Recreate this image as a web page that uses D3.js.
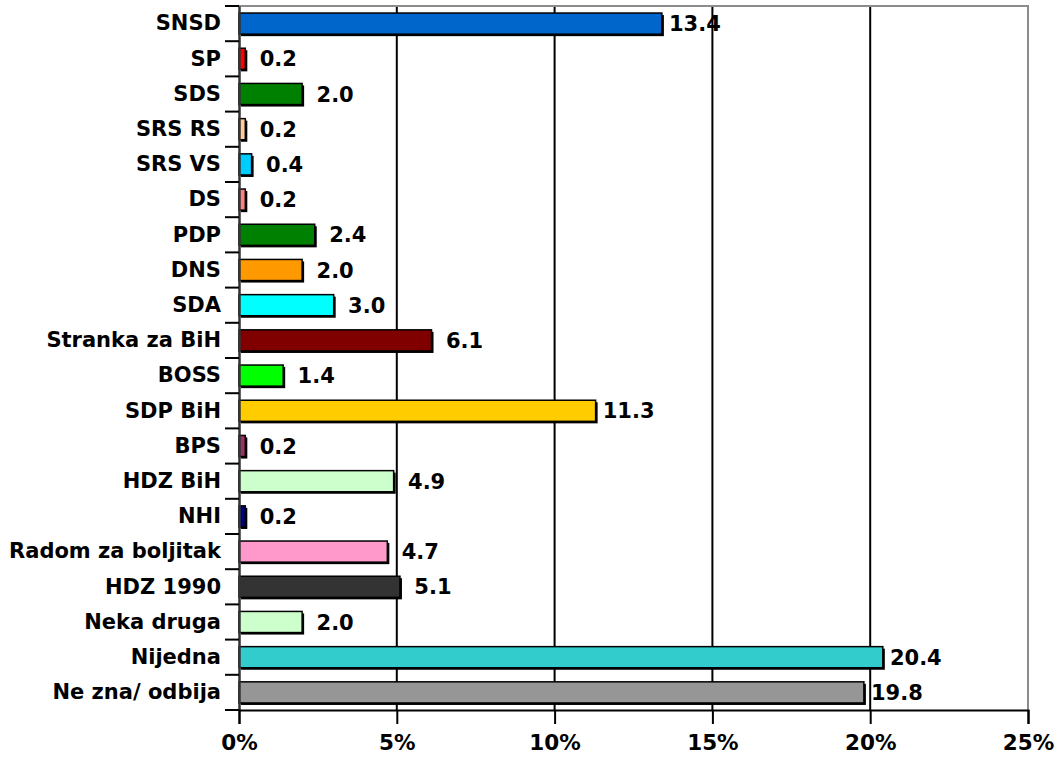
<!DOCTYPE html>
<html lang="en">
<head>
  <meta charset="UTF-8">
  <title>Stranke</title>
  <script src="https://d3js.org/d3.v7.min.js"></script>
  <style>
    body { margin: 0; background: #fff; }
    svg text { font-family: "DejaVu Sans", Verdana, sans-serif; font-weight: bold; }
  </style>
</head>
<body>
<svg id="chart" width="1062" height="759"></svg>
<script>
  // data
  const parties = ["SNSD", "SP", "SDS", "SRS RS", "SRS VS", "DS", "PDP", "DNS", "SDA",
    "Stranka za BiH", "BOSS", "SDP BiH", "BPS", "HDZ BiH", "NHI", "Radom za boljitak",
    "HDZ 1990", "Neka druga", "Nijedna", "Ne zna/ odbija"];
  const shares = [13.4, 0.2, 2.0, 0.2, 0.4, 0.2, 2.4, 2.0, 3.0, 6.1, 1.4, 11.3, 0.2, 4.9,
    0.2, 4.7, 5.1, 2.0, 20.4, 19.8];
  const barColors = ["#0066CC", "#FF0000", "#008000", "#FFCC99", "#00CCFF", "#FF8080",
    "#008000", "#FF9900", "#00FFFF", "#800000", "#00FF00", "#FFCC00", "#993366", "#CCFFCC",
    "#000080", "#FF99CC", "#333333", "#CCFFCC", "#33CCCC", "#969696"];
  const xTicks = [0, 5, 10, 15, 20, 25];

  const svg = d3.select("#chart");
  const plotL = 239, plotR = 1028, plotT = 6, plotB = 710;
  const FS = 21;

  const x = d3.scaleLinear().domain([0, 25]).range([plotL, plotR]);
  const y = d3.scaleBand().domain(parties).range([plotT, plotB]).paddingInner(0.4).paddingOuter(0.2);

  // gridlines
  svg.append("g").selectAll("line")
    .data(xTicks.filter(t => t > 0 && t < 25))
    .join("line")
    .attr("x1", d => x(d)).attr("x2", d => x(d))
    .attr("y1", plotT).attr("y2", plotB)
    .attr("stroke", "#000").attr("stroke-width", 2);

  // plot border top / right
  svg.append("path")
    .attr("d", `M${plotL},${plotT}H${plotR}V${plotB}`)
    .attr("fill", "none").attr("stroke", "#8c8c8c").attr("stroke-width", 2);

  // bars with shadow
  const bars = svg.append("g");
  bars.selectAll("rect.shadow")
    .data(parties)
    .join("rect")
    .attr("class", "shadow")
    .attr("x", x(0) + 2)
    .attr("y", d => y(d) + 2)
    .attr("width", (d, i) => x(shares[i]) - x(0))
    .attr("height", y.bandwidth())
    .attr("fill", "#000");
  bars.selectAll("rect.bar")
    .data(parties)
    .join("rect")
    .attr("class", "bar")
    .attr("x", x(0))
    .attr("y", d => y(d))
    .attr("width", (d, i) => x(shares[i]) - x(0))
    .attr("height", y.bandwidth())
    .attr("fill", (d, i) => barColors[i])
    .attr("stroke", "#000").attr("stroke-width", 1.5);

  // value labels
  svg.append("g").selectAll("text")
    .data(parties)
    .join("text")
    .attr("x", (d, i) => x(shares[i]) + 33)
    .attr("y", d => y(d) + y.bandwidth() / 2)
    .attr("dy", "0.36em")
    .attr("text-anchor", "middle")
    .attr("font-size", FS)
    .text((d, i) => shares[i].toFixed(1));

  // left axis
  const yAxis = svg.append("g")
    .attr("transform", `translate(${plotL},0)`)
    .call(d3.axisLeft(y).tickSize(0).tickPadding(18));
  yAxis.select(".domain").attr("stroke", "#333").attr("stroke-width", 2.5);
  yAxis.selectAll("text").attr("font-size", FS).attr("fill", "#000");
  const bounds = d3.range(parties.length + 1).map(i => plotT + i * (plotB - plotT) / parties.length);
  yAxis.selectAll("line.sep")
    .data(bounds)
    .join("line")
    .attr("class", "sep")
    .attr("x1", -14).attr("x2", 0)
    .attr("y1", d => d).attr("y2", d => d)
    .attr("stroke", "#000").attr("stroke-width", 2);

  // bottom axis
  const xAxis = svg.append("g")
    .attr("transform", `translate(0,${plotB})`)
    .call(d3.axisBottom(x).tickValues(xTicks).tickSize(14).tickPadding(11).tickFormat(d => d + "%"));
  xAxis.select(".domain").attr("stroke", "#000").attr("stroke-width", 2);
  xAxis.selectAll(".tick line").attr("stroke", "#000").attr("stroke-width", 2);
  xAxis.selectAll("text").attr("font-size", FS + 0.5).attr("fill", "#000");
</script>
</body>
</html>
